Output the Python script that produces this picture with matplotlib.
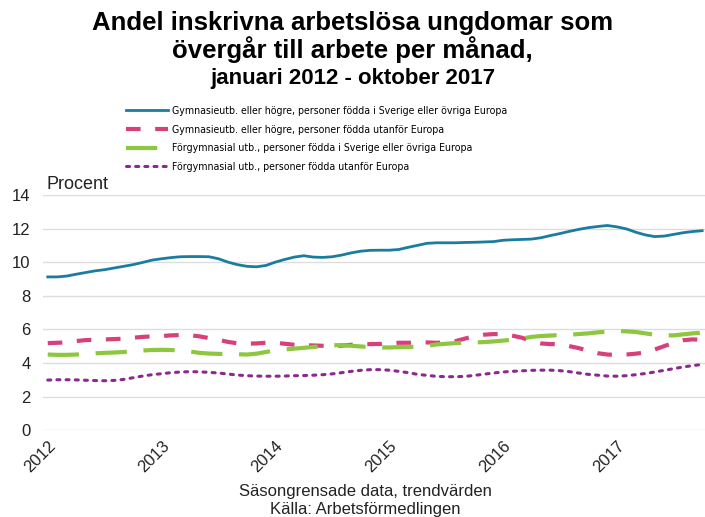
import numpy as np
import matplotlib
matplotlib.use("Agg")
import matplotlib.pyplot as plt
from matplotlib.font_manager import FontProperties

plt.rcParams['font.family'] = ['Liberation Sans', 'DejaVu Sans']

# månader från januari 2012 till oktober 2017
manader = np.arange(70)
ar_etiketter = ['2012', '2013', '2014', '2015', '2016', '2017']

gym_sverige = [9.12, 9.12, 9.17, 9.28, 9.38, 9.48, 9.55, 9.65, 9.75, 9.85, 9.98, 10.12,
               10.2, 10.27, 10.32, 10.33, 10.33, 10.32, 10.2, 10.0, 9.85, 9.75, 9.72, 9.8,
               10.0, 10.16, 10.3, 10.38, 10.3, 10.28, 10.32, 10.42, 10.55, 10.65, 10.7, 10.71,
               10.71, 10.75, 10.88, 11.0, 11.12, 11.15, 11.15, 11.15, 11.17, 11.18, 11.2, 11.22,
               11.3, 11.33, 11.35, 11.37, 11.45, 11.58, 11.7, 11.83, 11.95, 12.05, 12.12, 12.18,
               12.1, 11.98, 11.78, 11.62, 11.52, 11.55, 11.65, 11.75, 11.82, 11.87]
gym_utanfor = [5.18, 5.2, 5.22, 5.3, 5.36, 5.38, 5.4, 5.42, 5.44, 5.5, 5.55, 5.58,
               5.6, 5.64, 5.66, 5.65, 5.58, 5.48, 5.38, 5.25, 5.17, 5.15, 5.16, 5.2,
               5.2, 5.14, 5.08, 5.05, 5.04, 5.02, 5.0, 5.03, 5.08, 5.12, 5.12, 5.13,
               5.17, 5.2, 5.2, 5.22, 5.22, 5.2, 5.22, 5.3, 5.45, 5.6, 5.68, 5.72,
               5.7, 5.62, 5.5, 5.3, 5.16, 5.12, 5.12, 5.0, 4.88, 4.72, 4.58, 4.5,
               4.48, 4.5, 4.55, 4.62, 4.8, 5.0, 5.2, 5.35, 5.4, 5.38]
forgym_sverige = [4.5, 4.48, 4.48, 4.5, 4.53, 4.57, 4.6, 4.62, 4.65, 4.7, 4.74, 4.77,
                  4.78, 4.77, 4.74, 4.68, 4.6, 4.56, 4.54, 4.53, 4.52, 4.5, 4.55, 4.65,
                  4.75, 4.8, 4.85, 4.9, 4.95, 5.0, 5.05, 5.06, 5.02, 4.98, 4.94, 4.92,
                  4.92, 4.94, 4.95, 4.97, 5.03, 5.1, 5.14, 5.18, 5.2, 5.22, 5.24, 5.28,
                  5.33, 5.38, 5.45, 5.55, 5.6, 5.63, 5.66, 5.68, 5.72, 5.76, 5.82, 5.86,
                  5.9, 5.88, 5.84, 5.76, 5.68, 5.64, 5.64, 5.7, 5.76, 5.8]
forgym_utanfor = [2.98, 3.0, 3.0, 2.99, 2.97, 2.95, 2.94, 2.96, 3.02, 3.12, 3.22, 3.3,
                  3.36, 3.42, 3.46, 3.48, 3.47, 3.44, 3.4, 3.34, 3.28, 3.24, 3.22, 3.21,
                  3.21, 3.22, 3.24, 3.25, 3.27, 3.3, 3.35, 3.42, 3.5, 3.56, 3.6, 3.6,
                  3.57, 3.5, 3.42, 3.32, 3.26, 3.2, 3.18, 3.18, 3.2, 3.26, 3.33, 3.4,
                  3.46, 3.5, 3.53, 3.56, 3.57, 3.57, 3.54, 3.48, 3.4, 3.32, 3.27, 3.22,
                  3.21, 3.24, 3.3, 3.37, 3.46, 3.56, 3.66, 3.76, 3.84, 3.91]

fig = plt.figure(figsize=(7.05, 5.17), dpi=100)
ax = fig.add_axes([0.061, 0.168, 0.939, 0.455])

ax.plot(manader, gym_sverige, color='#1b7d9e', lw=2.0,
        label="Gymnasieutb. eller högre, personer födda i Sverige eller övriga Europa")
ax.plot(manader, gym_utanfor, color='#d8407a', lw=3.0, dashes=(3.5, 3.5),
        label="Gymnasieutb. eller högre, personer födda utanför Europa")
ax.plot(manader, forgym_sverige, color='#8dc63f', lw=3.0, dashes=(7.5, 4),
        label="Förgymnasial utb., personer födda i Sverige eller övriga Europa")
ax.plot(manader, forgym_utanfor, color='#8a2a8c', lw=2.2, dashes=(1, 2),
        dash_capstyle='round',
        label="Förgymnasial utb., personer födda utanför Europa")

ax.set_ylim(0, 14)
ax.set_yticks(range(0, 15, 2))
ax.set_xlim(-0.5, 69.3)
ax.set_xticks(range(0, 70, 12))
ax.set_xticklabels(ar_etiketter, rotation=45, ha='right', rotation_mode='anchor')
ax.tick_params(axis='both', length=0, labelsize=12, colors='#222222')
ax.tick_params(axis='x', pad=6)
ax.tick_params(axis='y', pad=9)
ax.grid(axis='y', color='#dddddd', lw=1)
ax.set_axisbelow(True)
for s in ax.spines.values():
    s.set_visible(False)

ax.text(0.005, 1.025, "Procent", transform=ax.transAxes, fontsize=13, color='#222222')

fig.text(0.5, 0.956, "Andel inskrivna arbetslösa ungdomar som", ha='center', va='center',
         fontsize=18.5, fontweight='bold')
fig.text(0.5, 0.905, "övergår till arbete per månad,", ha='center', va='center',
         fontsize=18.5, fontweight='bold')
fig.text(0.5, 0.849, "januari 2012 - oktober 2017", ha='center', va='center',
         fontsize=16, fontweight='bold')

leg_font = FontProperties(family=['DejaVu Sans'], stretch='condensed', size=7.6)
fig.legend(loc='upper left', bbox_to_anchor=(0.165, 0.813), frameon=False,
           handlelength=4.0, handletextpad=0.4, labelspacing=0.82, prop=leg_font)

fig.text(0.518, 0.05, "Säsongrensade data, trendvärden", ha='center', va='center',
         fontsize=12, color='#222222')
fig.text(0.518, 0.015, "Källa: Arbetsförmedlingen", ha='center', va='center',
         fontsize=12, color='#222222')

fig.savefig("out.png", dpi=100)
